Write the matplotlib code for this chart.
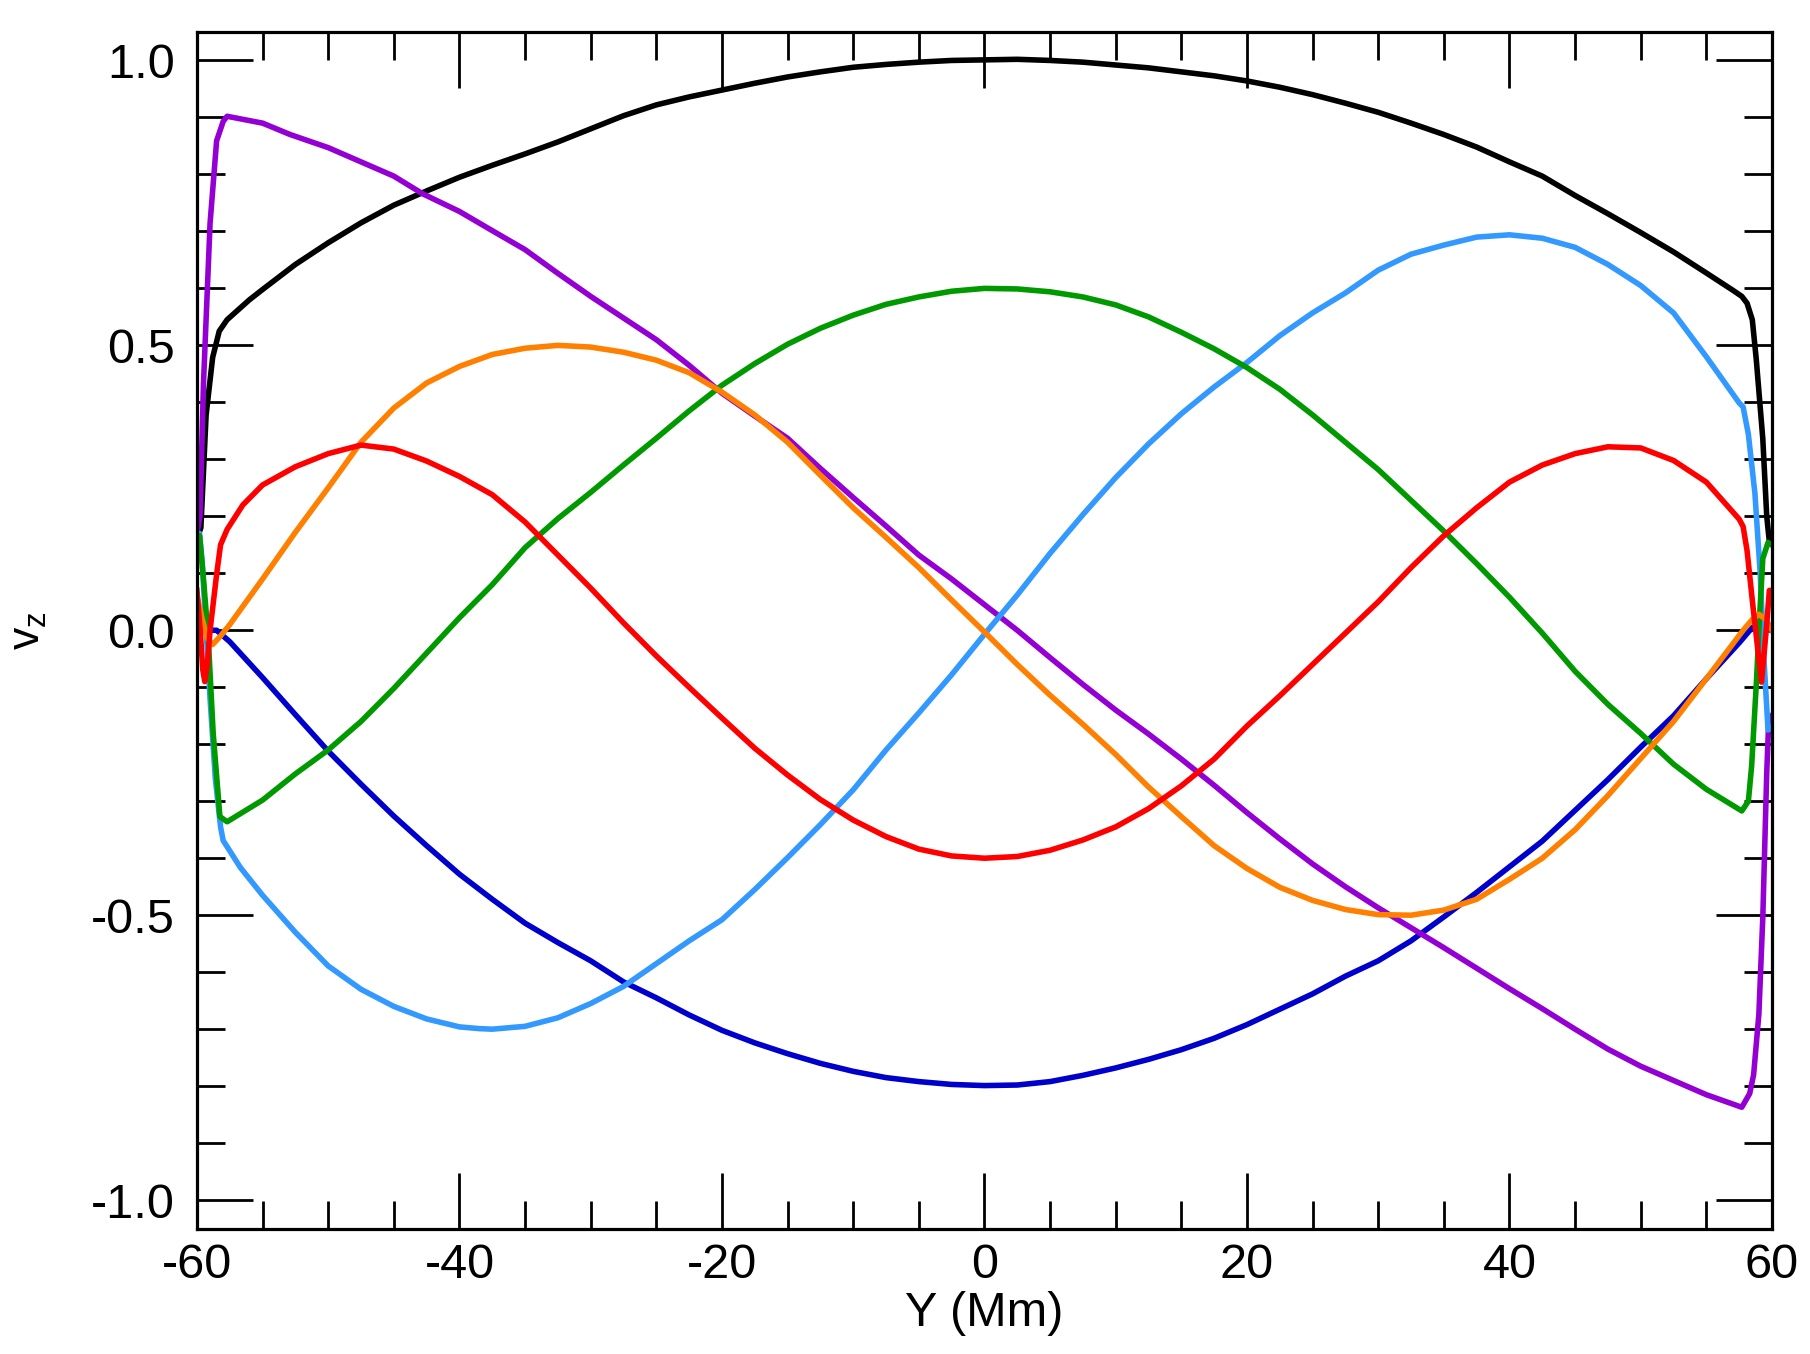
import matplotlib
matplotlib.use("Agg")
import matplotlib.pyplot as plt
from matplotlib.ticker import MultipleLocator

plt.rcParams['font.family'] = ['Liberation Sans', 'DejaVu Sans']
plt.rcParams['axes.unicode_minus'] = False
plt.rcParams['mathtext.default'] = 'regular'

# values (Y in Mm, v_z normalised)
black_y = [-60, -59.7, -59.3, -58.8, -58.3, -57.7, -56, -55, -52.5, -50, -47.5, -45, -42.5, -40, -37.5, -35, -32.5, -30, -27.5, -25, -22.5, -20, -17.5, -15, -12.5, -10, -7.5, -5, -2.5, 0, 2.5, 5, 7.5, 10, 12.5, 15, 17.5, 20, 22.5, 25, 27.5, 30, 32.5, 35, 37.5, 40, 42.5, 45, 47.5, 50, 52.5, 55, 57.0, 57.7, 58.1, 58.5, 58.8, 59.3, 59.6, 59.8, 60]
black_v = [0.16, 0.18, 0.378, 0.479, 0.525, 0.545, 0.58, 0.598, 0.642, 0.68, 0.715, 0.746, 0.771, 0.795, 0.816, 0.836, 0.857, 0.880, 0.903, 0.922, 0.936, 0.948, 0.960, 0.971, 0.980, 0.988, 0.993, 0.997, 1.0, 1.001, 1.002, 1.0, 0.997, 0.992, 0.987, 0.980, 0.973, 0.964, 0.953, 0.940, 0.925, 0.909, 0.890, 0.870, 0.848, 0.822, 0.797, 0.763, 0.731, 0.698, 0.664, 0.627, 0.597, 0.586, 0.574, 0.545, 0.476, 0.336, 0.2, 0.155, 0.15]

purple_y = [-60, -59.77, -59.5, -59.0, -58.5, -58.0, -57.7, -55, -52.9, -50, -47.8, -45, -42.8, -40, -37.7, -35, -32.6, -30, -27.5, -25, -22.5, -20, -17.5, -15, -12.5, -10, -7.5, -5, -2.5, 0, 2.5, 5, 7.5, 10, 12.5, 15, 17.5, 20, 22.5, 25, 27.5, 30, 32.5, 35, 37.5, 40, 42.5, 45, 47.5, 50, 52.5, 55, 57.7, 58.3, 58.6, 59.0, 59.3, 59.6, 59.75, 60]
purple_v = [0.17, 0.2, 0.434, 0.714, 0.859, 0.893, 0.902, 0.89, 0.870, 0.847, 0.825, 0.797, 0.766, 0.735, 0.704, 0.668, 0.628, 0.586, 0.548, 0.510, 0.465, 0.416, 0.376, 0.337, 0.284, 0.233, 0.183, 0.132, 0.09, 0.045, 0.0, -0.048, -0.095, -0.14, -0.182, -0.226, -0.272, -0.32, -0.366, -0.41, -0.45, -0.487, -0.522, -0.557, -0.593, -0.629, -0.664, -0.700, -0.735, -0.765, -0.790, -0.815, -0.837, -0.813, -0.78, -0.674, -0.504, -0.25, -0.16, -0.15]

lblue_y = [-60, -59.8, -59.6, -59.3, -59.0, -58.6, -58.2, -58.0, -57.5, -56.7, -55, -52.5, -50, -47.5, -45, -42.5, -40, -38.5, -37.5, -35, -32.5, -30, -27.5, -25, -22.5, -20, -17.5, -15, -12.5, -10, -7.5, -5, -2.5, 0, 2.5, 5, 7.5, 10, 12.5, 15, 17.5, 20, 22.5, 25, 27.5, 30, 32.5, 35, 37.5, 40, 42.5, 45, 47.5, 50, 52.5, 55, 57.5, 57.8, 58.2, 58.7, 59.1, 59.4, 59.7, 60]
lblue_v = [0.16, 0.17, 0.12, 0.0, -0.12, -0.26, -0.345, -0.369, -0.387, -0.416, -0.465, -0.530, -0.589, -0.630, -0.660, -0.682, -0.696, -0.699, -0.700, -0.695, -0.680, -0.655, -0.625, -0.585, -0.545, -0.508, -0.455, -0.399, -0.341, -0.280, -0.21, -0.145, -0.078, -0.007, 0.062, 0.135, 0.203, 0.268, 0.327, 0.38, 0.427, 0.470, 0.517, 0.557, 0.592, 0.632, 0.660, 0.676, 0.690, 0.694, 0.688, 0.672, 0.642, 0.605, 0.557, 0.48, 0.399, 0.392, 0.344, 0.240, 0.101, -0.056, -0.175, -0.17]

green_y = [-60, -59.8, -59.5, -59.14, -58.76, -58.25, -57.7, -55, -52.5, -50, -47.5, -45, -42.5, -40, -37.5, -35, -32.5, -30, -27.5, -25, -22.5, -20, -17.5, -15, -12.5, -10, -7.5, -5, -2.5, 0, 2.5, 5, 7.5, 10, 12.5, 15, 17.5, 20, 22.5, 25, 27.5, 30, 32.5, 35, 37.5, 40, 42.5, 45, 47.5, 50, 52.5, 55, 57.7, 58.2, 58.45, 58.83, 59.0, 59.3, 59.7, 60]
green_v = [0.15, 0.166, 0.09, -0.013, -0.181, -0.327, -0.336, -0.298, -0.252, -0.210, -0.160, -0.102, -0.040, 0.022, 0.08, 0.145, 0.196, 0.242, 0.29, 0.337, 0.385, 0.430, 0.468, 0.502, 0.530, 0.553, 0.572, 0.585, 0.595, 0.600, 0.599, 0.594, 0.585, 0.571, 0.550, 0.523, 0.494, 0.461, 0.423, 0.378, 0.33, 0.282, 0.228, 0.174, 0.117, 0.058, -0.005, -0.072, -0.13, -0.181, -0.235, -0.279, -0.317, -0.30, -0.238, -0.084, 0.0, 0.126, 0.154, 0.15]

orange_y = [-60, -59.6, -59.2, -58.8, -58.2, -57.5, -55, -52.5, -50, -47.5, -45, -42.5, -40, -37.5, -35, -32.5, -30, -27.5, -25, -22.5, -20, -17.5, -15, -12.5, -10, -7.5, -5, -2.5, 0, 2.5, 5, 7.5, 10, 12.5, 15, 17.5, 20, 22.5, 25, 27.5, 30, 32.5, 35, 37.5, 40, 42.5, 45, 47.5, 50, 52.5, 55, 57.8, 58.5, 59.0, 59.5, 60]
orange_v = [0.06, 0.02, -0.015, -0.025, -0.01, 0.01, 0.09, 0.172, 0.25, 0.33, 0.39, 0.434, 0.463, 0.484, 0.495, 0.500, 0.497, 0.488, 0.474, 0.452, 0.418, 0.378, 0.330, 0.272, 0.215, 0.163, 0.11, 0.053, -0.003, -0.06, -0.114, -0.165, -0.218, -0.275, -0.327, -0.378, -0.418, -0.451, -0.474, -0.49, -0.499, -0.5, -0.491, -0.472, -0.437, -0.400, -0.35, -0.29, -0.225, -0.16, -0.085, 0.0, 0.019, 0.028, 0.02, 0.0]

red_y = [-60, -59.75, -59.55, -59.4, -59.2, -59.0, -58.5, -58.2, -57.7, -56.5, -55, -52.5, -50, -47.5, -45, -42.5, -40, -37.5, -35, -32.5, -30, -27.5, -25, -22.5, -20, -17.5, -15, -12.5, -10, -7.5, -5, -2.5, 0, 2.5, 5, 7.5, 10, 12.5, 15, 17.5, 20, 22.5, 25, 27.5, 30, 32.5, 35, 37.5, 40, 42.5, 45, 47.5, 50, 52.5, 55, 57.5, 57.8, 58.1, 58.55, 59.2, 59.56, 59.8, 60]
red_v = [0.07, 0.0, -0.07, -0.09, -0.06, 0.0, 0.098, 0.15, 0.177, 0.22, 0.255, 0.287, 0.31, 0.325, 0.318, 0.297, 0.27, 0.238, 0.19, 0.132, 0.074, 0.013, -0.045, -0.100, -0.154, -0.207, -0.254, -0.297, -0.333, -0.362, -0.384, -0.396, -0.4, -0.397, -0.386, -0.368, -0.345, -0.313, -0.273, -0.226, -0.168, -0.115, -0.06, -0.005, 0.05, 0.11, 0.166, 0.215, 0.26, 0.29, 0.31, 0.322, 0.32, 0.298, 0.26, 0.195, 0.182, 0.14, 0.042, -0.091, 0.0, 0.07, 0.07]

dblue_y = [-60, -58.5, -57.5, -55, -52.5, -50, -47.5, -45, -42.5, -40, -37.5, -35, -32.5, -30, -27.5, -25, -22.5, -20, -17.5, -15, -12.5, -10, -7.5, -5, -2.5, 0, 2.5, 5, 7.5, 10, 12.5, 15, 17.5, 20, 22.5, 25, 27.5, 30, 32.5, 35, 37.5, 40, 42.5, 45, 47.5, 50, 52.5, 55, 57.5, 58.5, 60]
dblue_v = [0.0, 0.0, -0.02, -0.083, -0.148, -0.212, -0.27, -0.326, -0.378, -0.428, -0.472, -0.514, -0.548, -0.58, -0.617, -0.645, -0.675, -0.702, -0.724, -0.743, -0.760, -0.774, -0.785, -0.792, -0.797, -0.799, -0.798, -0.792, -0.781, -0.768, -0.753, -0.736, -0.716, -0.692, -0.665, -0.638, -0.607, -0.58, -0.545, -0.503, -0.46, -0.415, -0.37, -0.316, -0.262, -0.205, -0.15, -0.085, -0.022, 0.005, 0.0]

fig = plt.figure(figsize=(18.1, 13.54), dpi=100)
ax = fig.add_axes([0.1088, 0.0926, 0.8702, 0.8838])

lw = 4
ax.plot(dblue_y, dblue_v, color='#0000cc', lw=lw)
ax.plot(black_y, black_v, color='black', lw=lw)
ax.plot(purple_y, purple_v, color='#9400d3', lw=lw)
ax.plot(lblue_y, lblue_v, color='#3399ff', lw=lw)
ax.plot(green_y, green_v, color='#009900', lw=lw)
ax.plot(orange_y, orange_v, color='#ff8000', lw=lw)
ax.plot(red_y, red_v, color='#ff0000', lw=lw)

ax.set_xlim(-60, 60)
ax.set_ylim(-1.05, 1.05)
ax.xaxis.set_major_locator(MultipleLocator(20))
ax.xaxis.set_minor_locator(MultipleLocator(5))
ax.yaxis.set_major_locator(MultipleLocator(0.5))
ax.yaxis.set_minor_locator(MultipleLocator(0.1))
ax.xaxis.set_major_formatter(plt.FuncFormatter(lambda v, p: "%d" % v))
ax.yaxis.set_major_formatter(plt.FuncFormatter(lambda v, p: "%.1f" % v))

ax.tick_params(which='both', direction='in', top=True, right=True, width=2, labelsize=35)
ax.tick_params(which='major', length=40)
ax.tick_params(which='minor', length=20)
ax.tick_params(axis='y', which='major', pad=16)
ax.tick_params(axis='x', which='major', pad=10)
for s in ax.spines.values():
    s.set_linewidth(2.3)

ax.set_xlabel("Y (Mm)", fontsize=35)
ax.set_ylabel("$v_z$", fontsize=32)
ax.xaxis.set_label_coords(0.5, -0.052)
ax.yaxis.set_label_coords(-0.094, 0.5)

fig.savefig("out.png", dpi=100)
